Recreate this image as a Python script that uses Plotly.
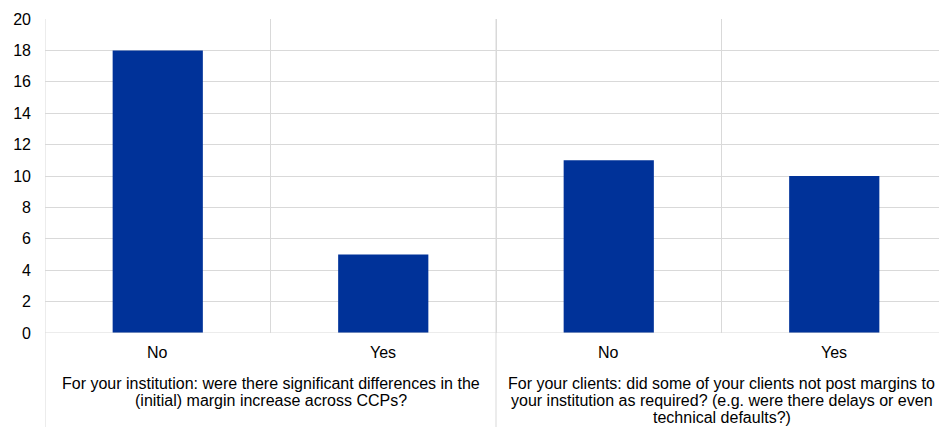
import plotly.graph_objects as go

groups = [
    "For your institution: were there significant differences in the<br>(initial) margin increase across CCPs?",
    "For your clients: did some of your clients not post margins to<br>your institution as required? (e.g. were there delays or even<br>technical defaults?)",
]
answers = ["No", "Yes", "No", "Yes"]
values = [18, 5, 11, 10]
group_of = [0, 0, 1, 1]

xpos = [i + 0.5 for i in range(len(values))]
font = dict(family="Liberation Sans, Arial, sans-serif", size=16, color="#000000")
grid = "#d9d9d9"

fig = go.Figure()
fig.add_trace(go.Bar(x=xpos, y=values, width=0.4, marker=dict(color="#003299", line=dict(width=0)),
                     hoverinfo="y"))

fig.update_layout(
    width=939, height=419,
    margin=dict(l=37, r=0, t=11, b=94),
    paper_bgcolor="white", plot_bgcolor="white",
    showlegend=False, font=font,
    xaxis=dict(range=[0, len(values)], tickvals=list(range(len(values) + 1)), showticklabels=False,
               showgrid=True, gridcolor=grid, gridwidth=1, zeroline=False, showline=False, fixedrange=True),
    yaxis=dict(range=[0, 20], dtick=2, showgrid=True, gridcolor=grid, gridwidth=1, zeroline=False,
               showline=False, tickfont=font, ticklabelstandoff=13, fixedrange=True),
)

# baseline
fig.add_shape(type="line", xref="paper", yref="y", x0=0, x1=1, y0=0, y1=0, line=dict(color=grid, width=1))

# category labels
for x, a in zip(xpos, answers):
    fig.add_annotation(x=x, xref="x", y=0, yref="paper", yanchor="middle", yshift=-19, text=a,
                       showarrow=False, font=font)

# group labels (one annotation per line for tighter spacing) and separators
for g, text in enumerate(groups):
    members = [xpos[i] for i in range(len(values)) if group_of[i] == g]
    center = sum(members) / len(members)
    for k, line in enumerate(text.split("<br>")):
        fig.add_annotation(x=center, xref="x", y=0, yref="paper", yanchor="middle", yshift=-50 - 17 * k,
                           text=line, showarrow=False, font=font, align="center")
    start = min(members) - 0.5
    fig.add_shape(type="line", xref="x", yref="paper", x0=start, x1=start, y0=-0.4, y1=1,
                  line=dict(color=grid, width=1))

fig.write_html("out.html")
